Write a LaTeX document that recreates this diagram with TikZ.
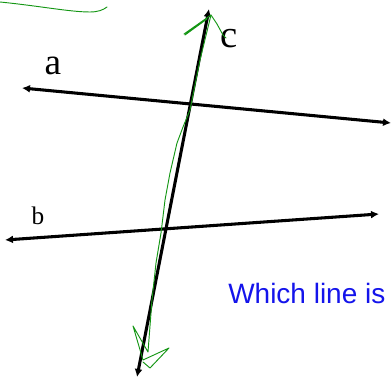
\documentclass[tikz,border=0pt]{standalone}
\usepackage{fontspec}
\setmainfont{Liberation Serif}
\newfontfamily\questfont{Liberation Sans}
\usetikzlibrary{arrows.meta}
\definecolor{pengreen}{RGB}{20,150,20}
\definecolor{askblue}{RGB}{20,20,235}

\begin{document}
\begin{tikzpicture}[
    x=0.75pt,y=-0.75pt,
    tip/.tip={Latex[length=6pt,width=6pt]},
    bothway/.style={line width=2.3pt,tip-tip},
    ink/.style={pengreen,line width=0.7pt,line join=round,line cap=round},
    lbl/.style={inner sep=0pt,anchor=base}
]
\useasboundingbox (0,0) rectangle (392,377);

% line ends
\coordinate (aL) at (22,88);
\coordinate (aR) at (391,123);
\coordinate (bL) at (5,240);
\coordinate (bR) at (379,214);
\coordinate (cT) at (209,9);
\coordinate (cB) at (137,377);

% the three lines
\draw[bothway] (aL) -- (aR);
\draw[bothway] (bL) -- (bR);
\draw[bothway] (cT) -- (cB);

% names of the lines
\node[lbl,font=\fontsize{28}{28}\selectfont] (na) at (53,75) {a};
\node[lbl,font=\fontsize{19}{19}\selectfont] (nb) at (38,225) {b};
\node[lbl,font=\fontsize{29}{29}\selectfont] (nc) at (229,48) {c};

% question
\node[lbl,anchor=base west,text=askblue,font=\questfont\fontsize{21}{21}\selectfont]
    (ask) at (228,303) {Which line is};

% pen strokes
\draw[ink] (0,2) .. controls (40,6) and (70,12) .. (90,12)
    .. controls (98,12) and (103,10) .. (107,7);
\draw[ink] (185,35) -- (207,19) -- (184,34) -- (211,15) -- (217,24)
    -- (223,35) -- (226,38);
\draw[ink] (211,15) -- (200,60) -- (190,110) -- (183,127) -- (177,143)
    -- (170,173) -- (165,200) -- (161,233) -- (156,263) -- (152,300)
    -- (148,352) -- (133,326) -- (143,360) -- (169,348) -- (150,368)
    -- (143,362);

\end{tikzpicture}
\end{document}
